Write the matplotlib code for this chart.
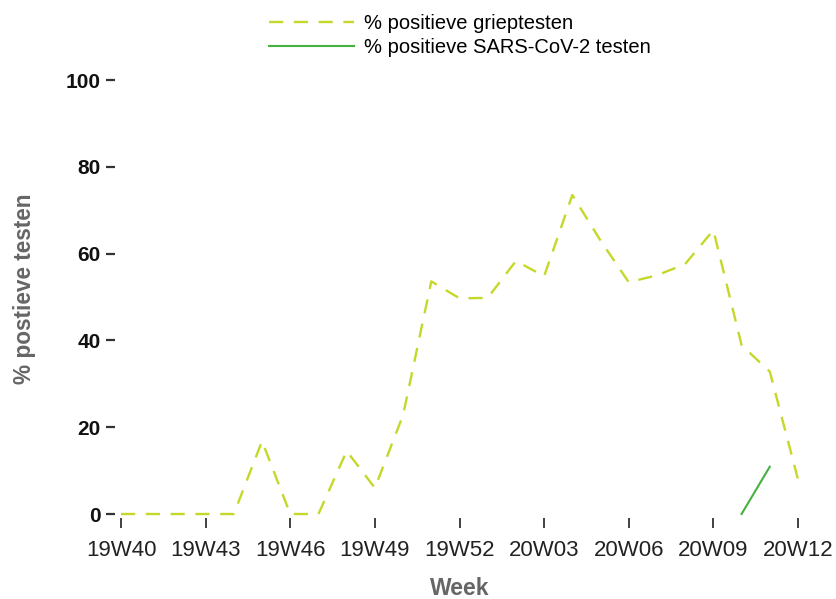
import numpy as np
import matplotlib
matplotlib.use("Agg")
import matplotlib.pyplot as plt

plt.rcParams['font.family'] = ['Liberation Sans', 'DejaVu Sans']

# weeks 2019W40 .. 2020W12 (no week 53)
weeks = [f"19W{w}" for w in range(40, 53)] + [f"20W{w:02d}" for w in range(1, 13)]
tick_labels = weeks[::3]

flu_pct = [0, 0, 0, 0, 0, 16.8, 0, 0, 14.5, 6.0, 22.8, 53.6, 49.7, 49.8, 58.3,
           54.8, 73.5, 63.0, 53.4, 55.0, 57.6, 65.4, 38.9, 32.8, 8.0]
covid_weeks = ["20W10", "20W11"]
covid_pct = [0, 10.9]

x_all = np.arange(len(weeks))
x_cov = [weeks.index(w) for w in covid_weeks]

fig = plt.figure(figsize=(8.37, 5.99), dpi=100)
W, H = 837, 599
ax = fig.add_axes([121 / W, 1 - 514 / H, (798 - 121) / W, (514 - 80) / H])

ax.plot(x_all, flu_pct, color="#c5d82a", lw=1.7, linestyle=(0, (6, 4.5)),
        clip_on=False, label="% positieve grieptesten")
ax.plot(x_cov, covid_pct, color="#46b040", lw=1.5, clip_on=False,
        label="% positieve SARS-CoV-2 testen")

ax.set_xlim(0, len(weeks) - 1)
ax.set_ylim(0, 100)

for s in ax.spines.values():
    s.set_visible(False)
ax.spines['left'].set_position(('outward', 4))
ax.spines['bottom'].set_position(('outward', 3))

ax.set_xticks(x_all[::3])
ax.set_xticklabels(tick_labels)
ax.set_yticks([0, 20, 40, 60, 80, 100])
ax.tick_params(axis='x', direction='out', length=7.5, width=1.3, color="#333333",
               labelsize=16, labelcolor="#222222", pad=8)
ax.tick_params(axis='y', direction='out', length=6.5, width=1.6, color="#333333",
               labelsize=15, labelcolor="#111111", pad=4)
for t in ax.get_yticklabels():
    t.set_fontweight('bold')

ax.set_xlabel("Week", fontsize=16.5, fontweight='bold', color="#666666")
ax.xaxis.set_label_coords(0.5, -0.145)
ax.set_ylabel("% postieve testen", fontsize=16.3, fontweight='bold', color="#666666")
ax.yaxis.set_label_coords(-0.126, 0.518)

fig.legend(loc='upper left', bbox_to_anchor=(259 / W, 1 - 4 / H), frameon=False,
           borderpad=0, fontsize=14.5, handlelength=4.2, handletextpad=0.5,
           labelspacing=0.25)

fig.savefig("out.png", dpi=100)
